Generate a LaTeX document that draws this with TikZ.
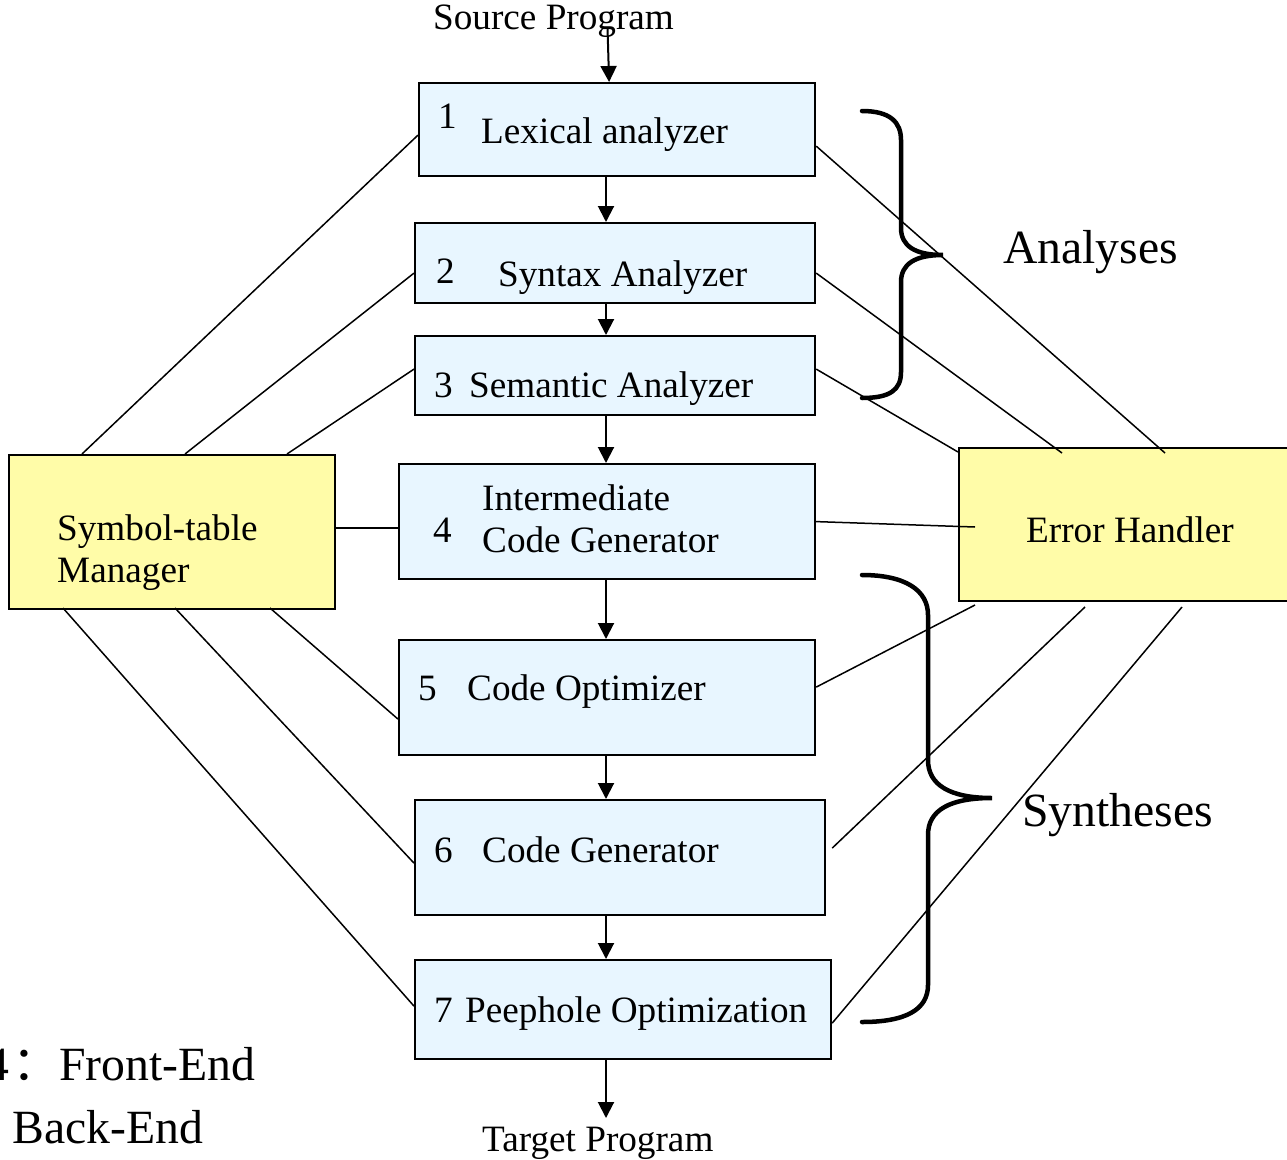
\documentclass[tikz,border=0pt]{standalone}
\usepackage{fontspec}
\setmainfont{Liberation Serif}
\newfontfamily\cjk{Noto Sans CJK SC}
\usetikzlibrary{arrows.meta,calc}
\definecolor{boxblue}{HTML}{E8F6FF}
\definecolor{boxyellow}{HTML}{FFFCA8}
\begin{document}
\begin{tikzpicture}[x=1pt,y=-1pt,
  every node/.style={font=\fontsize{37.2}{44}\selectfont},
  bluebox/.style={draw, line width=2.2pt, fill=boxblue, inner sep=0pt, anchor=north west},
  yellowbox/.style={draw, line width=2.2pt, fill=boxyellow, inner sep=0pt, anchor=north west},
  txt/.style={anchor=base west, inner sep=0pt},
  bigtxt/.style={anchor=base west, inner sep=0pt, font=\fontsize{47.7}{56}\selectfont},
  conn/.style={line width=1.5pt},
  arr/.style={line width=2pt, -{Triangle[width=16pt,length=16pt]}},
  brace/.style={line width=4.5pt, line cap=round}]
\useasboundingbox (0,0) rectangle (1287,1159);

% boxes
\node[bluebox, minimum width=396pt, minimum height=93pt] (b1) at (418,82) {};
\node[bluebox, minimum width=400pt, minimum height=80pt] (b2) at (414,222) {};
\node[bluebox, minimum width=400pt, minimum height=79pt] (b3) at (414,335) {};
\node[bluebox, minimum width=416pt, minimum height=115pt] (b4) at (398,463) {};
\node[bluebox, minimum width=416pt, minimum height=115pt] (b5) at (398,639) {};
\node[bluebox, minimum width=410pt, minimum height=115pt] (b6) at (414,799) {};
\node[bluebox, minimum width=416pt, minimum height=99pt] (b7) at (414,959) {};
\node[yellowbox, minimum width=326pt, minimum height=154pt] (stm) at (8,454) {};
\node[yellowbox, minimum width=335pt, minimum height=153pt] (eh) at (958,447) {};

% texts
\node[txt] (src) at (433,29) {Source Program};
\node[txt] (n1) at (438,128) {1};
\node[txt] (t1) at (481,143) {Lexical analyzer};
\node[txt] (n2) at (436,283) {2};
\node[txt] (t2) at (498,286) {Syntax Analyzer};
\node[txt] (n3) at (434,397) {3};
\node[txt] (t3) at (469,397) {Semantic Analyzer};
\node[txt] (n4) at (433,542) {4};
\node[txt] (t4a) at (482,510) {Intermediate};
\node[txt] (t4b) at (482,552) {Code Generator};
\node[txt] (n5) at (418,700) {5};
\node[txt] (t5) at (467,700) {Code Optimizer};
\node[txt] (n6) at (434,862) {6};
\node[txt] (t6) at (482,862) {Code Generator};
\node[txt] (n7) at (434,1022) {7};
\node[txt] (t7) at (465,1022) {Peephole Optimization};
\node[txt] (tgt) at (482,1151) {Target Program};
\node[txt] (st1) at (57,540) {Symbol-table};
\node[txt] (st2) at (57,582) {Manager};
\node[txt] (eht) at (1026,542) {Error Handler};
\node[bigtxt] (ana) at (1003,263) {Analyses};
\node[bigtxt] (syn) at (1022,826) {Syntheses};
\node[bigtxt, anchor=base east] (fe4) at (10,1080) {4};
\node[bigtxt] (fec) at (12,1080) {\cjk ：};
\node[bigtxt] (fe) at (59,1080) {Front-End};
\node[bigtxt] (be) at (12,1143) {Back-End};

% coordinates
\coordinate (ax) at (606,0);
\coordinate (s1) at (82,454);
\coordinate (s2) at (185,454);
\coordinate (s3) at (287,454);
\coordinate (s5) at (270,608);
\coordinate (s6) at (175,608);
\coordinate (s7) at (63,608);
\coordinate (e1) at (1165,453);
\coordinate (e2) at (1062,453);
\coordinate (e3) at (958,452);
\coordinate (e4) at (975,527);
\coordinate (e5) at (975,605);
\coordinate (e6) at (1085,607);
\coordinate (e7) at (1182,607);
\coordinate (tgtend) at (606,1118);

% connectors to symbol-table manager
\draw[conn] (s1) -- ($(b1.west)+(0,5.5)$);
\draw[conn] (s2) -- ($(b2.west)+(0,10)$);
\draw[conn] (s3) -- ($(b3.west)+(0,-6.5)$);
\draw[conn] ($(stm.east)+(0,-4)$) -- ($(b4.west)+(0,6.5)$);
\draw[conn] (s5) -- ($(b5.west)+(0,21.5)$);
\draw[conn] (s6) -- ($(b6.west)+(0,5.5)$);
\draw[conn] (s7) -- ($(b7.west)+(0,-3.5)$);

% connectors to error handler
\draw[conn] ($(b1.east)+(0,16.5)$) -- (e1);
\draw[conn] ($(b2.east)+(0,10)$) -- (e2);
\draw[conn] ($(b3.east)+(0,-6.5)$) -- (e3);
\draw[conn] ($(b4.east)+(0,0)$) -- (e4);
\draw[conn] ($(b5.east)+(0,-10.5)$) -- (e5);
\draw[conn] ($(b6.east)+(6,-9.5)$) -- (e6);
\draw[conn] ($(b7.east)+(0,13.5)$) -- (e7);

% flow arrows
\draw[arr] ($(src.south)+(54,-8)$) -- ($(b1.north)+(-8,0)$);
\draw[arr] (b1.south -| ax) -- (b2.north -| ax);
\draw[arr] (b2.south -| ax) -- (b3.north -| ax);
\draw[arr] (b3.south -| ax) -- (b4.north -| ax);
\draw[arr] (b4.south -| ax) -- (b5.north -| ax);
\draw[arr] (b5.south -| ax) -- (b6.north -| ax);
\draw[arr] (b6.south -| ax) -- (b7.north -| ax);
\draw[arr] (b7.south -| ax) -- (tgtend);

% braces
\draw[brace] (862,111) .. controls (890,111) and (901,122) .. (901,140)
  -- (901,228) .. controls (901,246) and (915,255) .. (943,255)
  .. controls (915,255) and (901,264) .. (901,282)
  -- (901,372) .. controls (901,390) and (890,398) .. (862,398);
\draw[brace] (862,575) .. controls (905,575) and (928,590) .. (928,615)
  -- (928,760) .. controls (928,785) and (950,798) .. (992,798)
  .. controls (950,798) and (928,810) .. (928,835)
  -- (928,985) .. controls (928,1010) and (905,1022) .. (862,1022);
\end{tikzpicture}
\end{document}
